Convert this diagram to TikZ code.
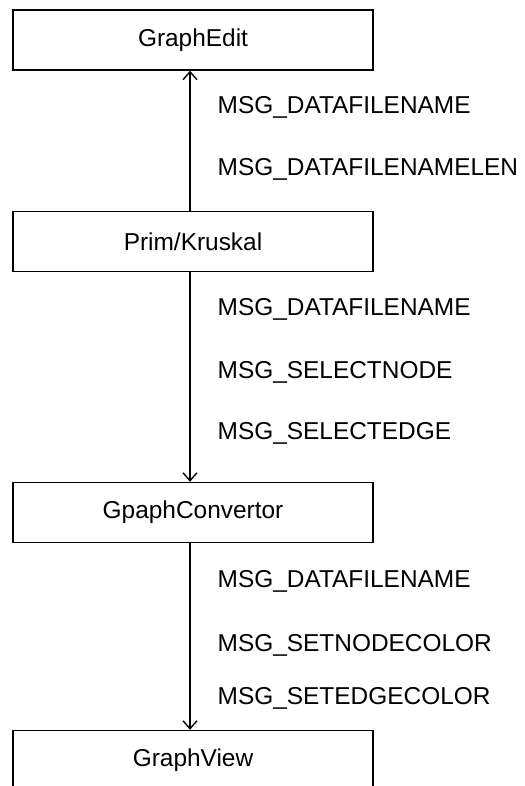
\documentclass[tikz,border=0pt]{standalone}
\usepackage{fontspec}
\setmainfont{Liberation Sans}
\usetikzlibrary{arrows.meta}

\begin{document}
\begin{tikzpicture}[x=0.02cm, y=-0.02cm, line width=0.8pt,
    font=\fontsize{13.9}{16}\selectfont,
    module/.style={rectangle, draw, minimum width=7.2cm, minimum height=1.2cm, inner sep=0pt},
    msg/.style={anchor=base west, inner sep=0pt},
    flow/.style={-{Straight Barb[length=0.16cm, width=0.28cm]}}]
    \useasboundingbox (0,0) rectangle (524,786);
    % the four modules
    \node[module] (edit) at (193,40) {GraphEdit};
    \node[module] (prim) at (193,241.5) {Prim/Kruskal};
    \node[module] (conv) at (193,512.5) {GpaphConvertor};
    \node[module] (view) at (193,760.5) {GraphView};
    % message flows
    \draw[flow] ([xshift=-0.06cm]prim.north) -- ([xshift=-0.06cm]edit.south);
    \draw[flow] ([xshift=-0.06cm]prim.south) -- ([xshift=-0.06cm]conv.north);
    \draw[flow] ([xshift=-0.06cm]conv.south) -- ([xshift=-0.06cm]view.north);
    % messages
    \node[msg] (m1) at (217,114) {MSG\_DATAFILENAME};
    \node[msg] (m2) at (217,176) {MSG\_DATAFILENAMELEN};
    \node[msg] (m3) at (217,316) {MSG\_DATAFILENAME};
    \node[msg] (m4) at (217,378) {MSG\_SELECTNODE};
    \node[msg] (m5) at (217,439) {MSG\_SELECTEDGE};
    \node[msg] (m6) at (217,587) {MSG\_DATAFILENAME};
    \node[msg] (m7) at (217,651) {MSG\_SETNODECOLOR};
    \node[msg] (m8) at (217,704) {MSG\_SETEDGECOLOR};
\end{tikzpicture}
\end{document}
